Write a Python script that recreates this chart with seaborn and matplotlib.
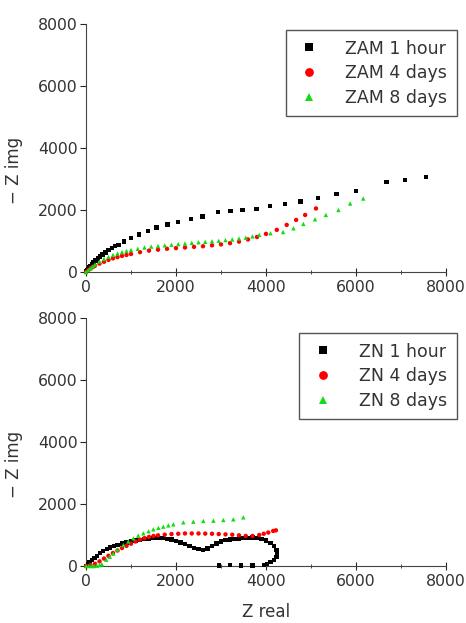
import numpy as np
import pandas as pd
import seaborn as sns
import matplotlib.pyplot as plt
from matplotlib.ticker import MultipleLocator

# ZAM samples (top panel)
zam_1h_x = [0, 15, 30, 50, 75, 100, 130, 170, 210, 260, 310, 370, 430, 500, 580, 650, 720, 845,
            1000, 1180, 1380, 1570, 1810, 2050, 2330, 2590, 2940, 3210, 3480, 3790, 4090, 4420,
            4770, 5160, 5570, 6000, 6680, 7090, 7560]
zam_1h_y = [0, 30, 60, 100, 150, 200, 250, 310, 370, 440, 500, 570, 630, 700, 770, 830, 880, 980,
            1090, 1215, 1330, 1430, 1530, 1620, 1710, 1785, 1935, 1960, 2000, 2040, 2130, 2190,
            2280, 2380, 2520, 2620, 2910, 2970, 3070]

zam_4d_x = [0, 50, 100, 150, 200, 300, 400, 500, 600, 700, 800, 900, 1000, 1200, 1400, 1600,
            1800, 2000, 2200, 2400, 2600, 2800, 3000, 3200, 3400, 3600, 3800, 4000, 4240, 4460,
            4670, 4870, 5110]
zam_4d_y = [0, 60, 110, 160, 200, 270, 330, 390, 440, 480, 520, 550, 580, 640, 690, 720,
            750, 770, 790, 810, 830, 860, 890, 930, 980, 1050, 1130, 1230, 1360, 1520,
            1680, 1840, 2050]

zam_8d_x = [0, 50, 100, 150, 200, 300, 400, 500, 600, 700, 800, 900, 1000, 1150, 1300, 1450,
            1600, 1750, 1900, 2050, 2200, 2350, 2500, 2650, 2800, 2950, 3100, 3250, 3400, 3550,
            3700, 3850, 4100, 4380, 4610, 4830, 5090, 5330, 5610, 5870, 6160]
zam_8d_y = [0, 60, 120, 180, 240, 340, 420, 490, 550, 600, 640, 680, 710, 750, 790, 820,
            840, 860, 880, 900, 920, 940, 960, 975, 990, 1005, 1030, 1050, 1080, 1110,
            1150, 1200, 1250, 1290, 1410, 1550, 1700, 1840, 2000, 2210, 2370]

# ZN samples (bottom panel)
zn_1h_x = [0, 40, 80, 130, 190, 250, 310, 380, 460, 540, 620, 700, 800, 900, 1000, 1100, 1200,
           1300, 1400, 1500, 1600, 1700, 1800, 1900, 2000, 2100, 2200, 2300, 2400, 2500, 2600,
           2700, 2800, 2900, 3000, 3100, 3200, 3300, 3400, 3500, 3600, 3700, 3800, 3900, 4000,
           4100, 4180, 4230, 4250, 4230, 4180, 4100, 4020, 3950, 3700, 3450, 3200, 2950]
zn_1h_y = [0, 60, 120, 190, 260, 330, 410, 480, 550, 600, 640, 680, 720, 760, 790, 820, 845,
           870, 890, 905, 910, 900, 880, 850, 810, 760, 700, 640, 580, 540, 520,
           560, 640, 720, 790, 830, 860, 880, 890, 900, 910, 915, 910, 880, 820,
           740, 640, 520, 410, 300, 200, 120, 60, 30, 20, 20, 30, 20]

zn_4d_x = [0, 100, 200, 300, 400, 500, 600, 700, 800, 900, 1000, 1100, 1200, 1300, 1400, 1500,
           1600, 1750, 1900, 2050, 2200, 2350, 2500, 2650, 2800, 2950, 3100, 3250, 3400, 3550,
           3700, 3850, 3950, 4050, 4160, 4220]
zn_4d_y = [0, 30, 70, 150, 240, 330, 420, 500, 580, 650, 720, 790, 850, 900, 940, 970,
           990, 1010, 1030, 1040, 1050, 1050, 1050, 1045, 1040, 1030, 1020, 1010, 990, 970,
           970, 1000, 1040, 1080, 1130, 1150]

zn_8d_x = [0, 60, 120, 180, 240, 300, 350, 450, 530, 607, 700, 830, 940, 1052, 1160, 1274, 1390,
           1496, 1610, 1718, 1830, 1941, 2163, 2385, 2607, 2830, 3052, 3274, 3496]
zn_8d_y = [0, 0, 0, 0, 10, 30, 60, 200, 300, 400, 530, 677, 790, 892, 980, 1054, 1120,
           1183, 1230, 1269, 1310, 1344, 1409, 1430, 1452, 1462, 1484, 1505, 1570]

top_labels = ["ZAM 1 hour", "ZAM 4 days", "ZAM 8 days"]
bottom_labels = ["ZN 1 hour", "ZN 4 days", "ZN 8 days"]

colors = ["#000000", "#ff0000", "#11dd11"]
markers = ["s", "o", "^"]

sns.set_style("ticks")
plt.rcParams["font.family"] = ["DejaVu Sans"]
text_color = "#333333"


def make_frame(xs, ys, labels):
    parts = []
    for x, y, lab in zip(xs, ys, labels):
        parts.append(pd.DataFrame({"x": x, "y": y, "series": lab}))
    return pd.concat(parts, ignore_index=True)


top = make_frame([zam_1h_x, zam_4d_x, zam_8d_x], [zam_1h_y, zam_4d_y, zam_8d_y], top_labels)
bottom = make_frame([zn_1h_x, zn_4d_x, zn_8d_x], [zn_1h_y, zn_4d_y, zn_8d_y], bottom_labels)

fig = plt.figure(figsize=(4.66, 6.23), dpi=100)
ax1 = fig.add_axes([86 / 466, 1 - 272 / 623, 360 / 466, 248 / 623])
ax2 = fig.add_axes([86 / 466, 1 - 566 / 623, 360 / 466, 248 / 623])

for ax, df, labels, leg_top in [(ax1, top, top_labels, 30), (ax2, bottom, bottom_labels, 333)]:
    sns.scatterplot(data=df, x="x", y="y", hue="series", style="series",
                    hue_order=labels, style_order=labels,
                    palette=colors, markers=markers, s=10, linewidth=0,
                    ax=ax, legend=True, clip_on=False, zorder=3)
    ax.set_xlim(0, 8000)
    ax.set_ylim(0, 8000)
    ax.set_xticks([0, 2000, 4000, 6000, 8000])
    ax.set_yticks([0, 2000, 4000, 6000, 8000])
    ax.xaxis.set_minor_locator(MultipleLocator(1000))
    ax.tick_params(axis="x", which="major", direction="inout", length=6, width=0.8,
                   labelsize=11.3, labelcolor=text_color, pad=3)
    ax.tick_params(axis="x", which="minor", direction="inout", length=3, width=0.6)
    ax.tick_params(axis="y", direction="out", length=4, width=0.8,
                   labelsize=11.3, labelcolor=text_color, pad=2)
    sns.despine(ax=ax)
    for sp in ["left", "bottom"]:
        ax.spines[sp].set_linewidth(0.8)
        ax.spines[sp].set_color("#444444")
    ax.set_ylabel("\u2212 Z img", fontsize=12, color=text_color)
    ax.yaxis.set_label_coords(-0.175, 0.41)
    ax.set_xlabel("")
    handles, labs = ax.get_legend_handles_labels()
    ax.legend(handles, labs, loc="upper right", bbox_to_anchor=(457 / 466, 1 - leg_top / 623),
              bbox_transform=fig.transFigure, frameon=True, fancybox=False,
              edgecolor="#555555", fontsize=12.5, markerscale=2.0, handletextpad=1.3,
              handlelength=1.6, borderpad=0.55, labelspacing=0.38, borderaxespad=0,
              framealpha=1)
    for t in ax.get_legend().get_texts():
        t.set_color(text_color)

ax2.set_xlabel("Z real", fontsize=12, color=text_color, labelpad=10)

fig.savefig("out.png", dpi=100)
